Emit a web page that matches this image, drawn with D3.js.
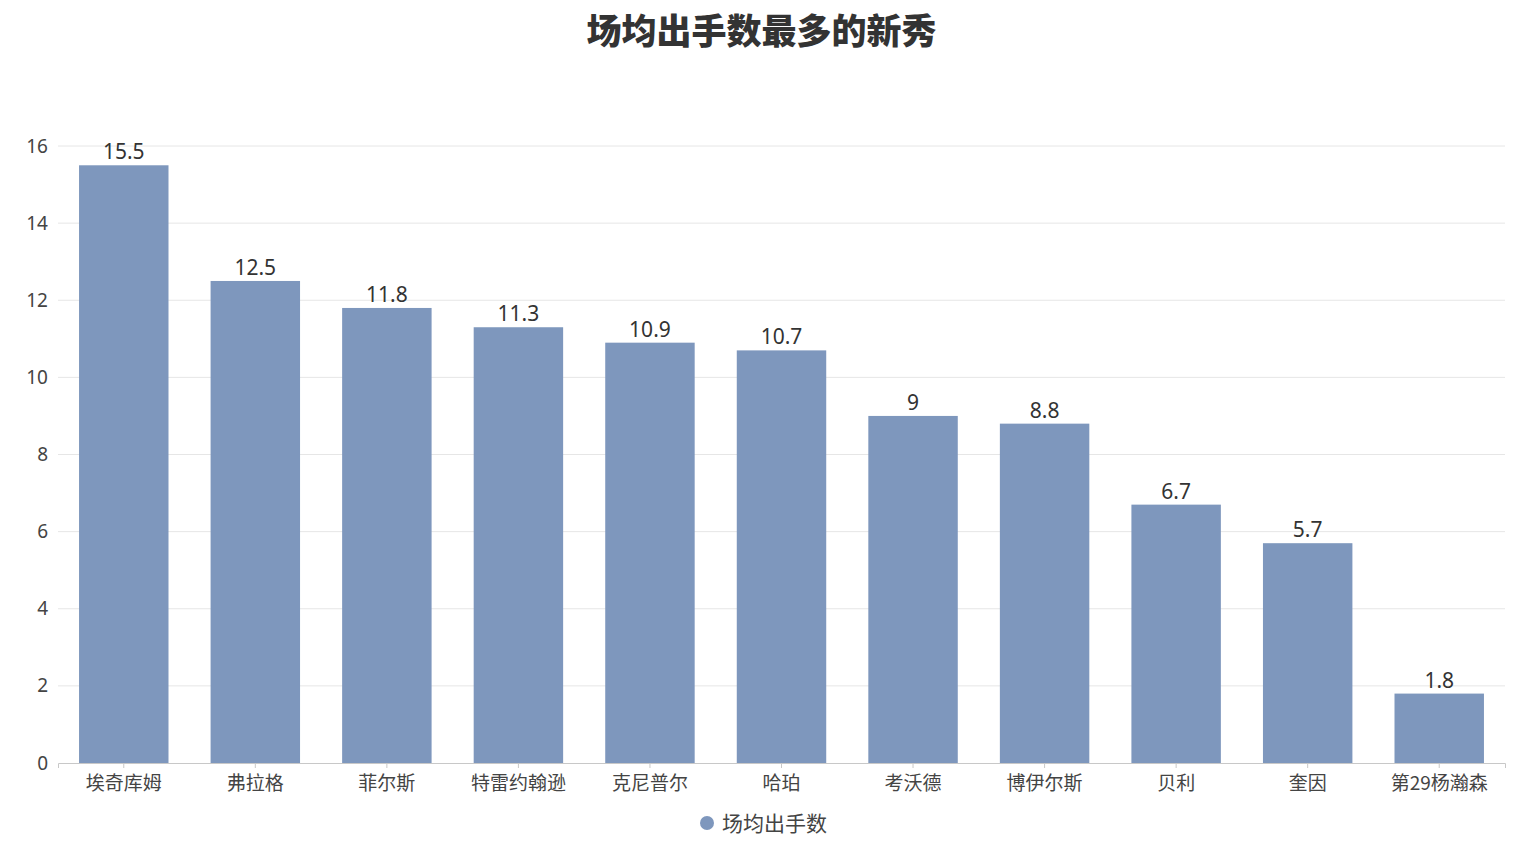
<!DOCTYPE html>
<html>
<head>
<meta charset="utf-8">
<script src="https://cdn.jsdelivr.net/npm/d3@7"></script>
<style>
  body { margin: 0; background: #fff; }
  text { font-family: "Noto Sans CJK SC", "Noto Sans", sans-serif; }
</style>
</head>
<body>
<div id="chart"></div>
<script>
// Chart data.
const players = ["埃奇库姆", "弗拉格", "菲尔斯", "特雷约翰逊", "克尼普尔", "哈珀", "考沃德", "博伊尔斯", "贝利", "奎因", "第29杨瀚森"];
const shotsPerGame = [15.5, 12.5, 11.8, 11.3, 10.9, 10.7, 9, 8.8, 6.7, 5.7, 1.8];
const yTicks = [0, 2, 4, 6, 8, 10, 12, 14, 16];
const seriesName = "场均出手数";
const chartTitle = "场均出手数最多的新秀";

const width = 1523;
const height = 844;
const margin = { top: 146, right: 18, bottom: 81, left: 58 };
const barColor = "#7e97bd";

const svg = d3.select("#chart")
  .append("svg")
  .attr("width", width)
  .attr("height", height);

// Scales.
const x = d3.scaleBand()
  .domain(players)
  .range([margin.left, width - margin.right])
  .paddingInner(0.32)
  .paddingOuter(0.16);

const y = d3.scaleLinear()
  .domain([0, 16])
  .range([height - margin.bottom, margin.top]);

// Grid lines.
svg.append("g")
  .selectAll("line")
  .data(yTicks.filter((d) => d > 0))
  .join("line")
  .attr("x1", margin.left)
  .attr("x2", width - margin.right)
  .attr("y1", (d) => y(d))
  .attr("y2", (d) => y(d))
  .attr("stroke", "#e6e6e6")
  .attr("stroke-width", 1);

// Y axis labels.
const yAxis = svg.append("g")
  .attr("transform", `translate(${margin.left},0)`)
  .call(d3.axisLeft(y).tickValues(yTicks).tickSize(0).tickPadding(10));
yAxis.select(".domain").remove();
yAxis.selectAll("text")
  .attr("fill", "#444")
  .attr("font-size", 19)
  .style("font-family", "'Noto Sans', 'Noto Sans CJK SC', sans-serif");

// Bars.
svg.append("g")
  .selectAll("rect")
  .data(shotsPerGame)
  .join("rect")
  .attr("x", (d, i) => x(players[i]))
  .attr("y", (d) => y(d))
  .attr("width", x.bandwidth())
  .attr("height", (d) => y(0) - y(d))
  .attr("fill", barColor);

// Value labels.
svg.append("g")
  .selectAll("text")
  .data(shotsPerGame)
  .join("text")
  .attr("x", (d, i) => x(players[i]) + x.bandwidth() / 2)
  .attr("y", (d) => y(d) - 6)
  .attr("text-anchor", "middle")
  .attr("fill", "#333")
  .attr("font-size", 21)
  .style("font-family", "'Noto Sans', 'Noto Sans CJK SC', sans-serif")
  .text((d) => d);

// X axis.
const xAxis = svg.append("g")
  .attr("transform", `translate(0,${y(0)})`)
  .call(d3.axisBottom(x).tickSize(5).tickPadding(9));
xAxis.select(".domain").attr("stroke", "#c8c8c8");
xAxis.selectAll(".tick line").attr("stroke", "#c8c8c8");
xAxis.selectAll("text")
  .attr("fill", "#444")
  .attr("font-size", 19);

// Title.
svg.append("text")
  .attr("x", width / 2)
  .attr("y", 44)
  .attr("text-anchor", "middle")
  .attr("fill", "#333")
  .attr("font-size", 35)
  .attr("font-weight", 900)
  .text(chartTitle);

// Legend.
const legend = svg.append("g").attr("transform", "translate(707,823)");
legend.append("circle").attr("r", 7).attr("fill", barColor);
legend.append("text")
  .attr("x", 15)
  .attr("y", 7.5)
  .attr("fill", "#444")
  .attr("font-size", 21)
  .text(seriesName);
</script>
</body>
</html>
